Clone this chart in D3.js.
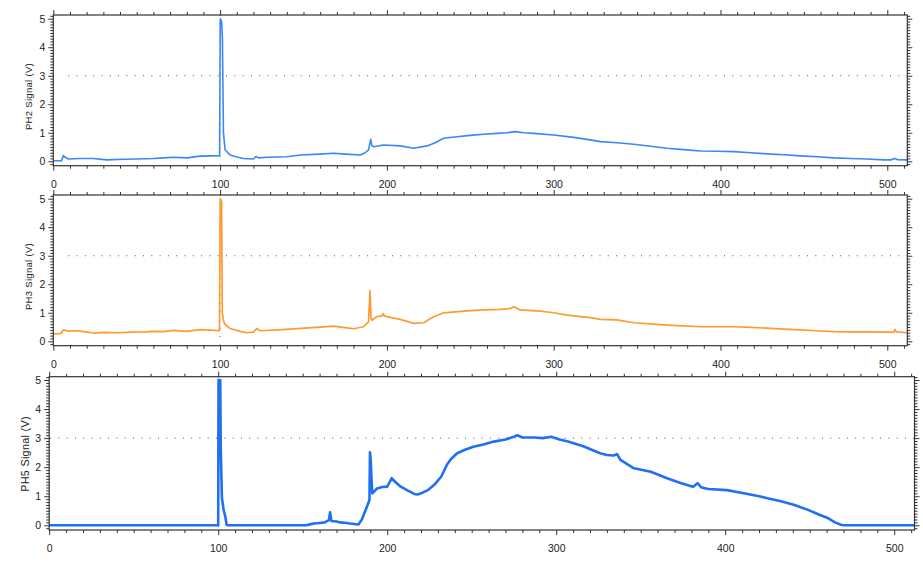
<!DOCTYPE html>
<html><head><meta charset="utf-8">
<script src="https://cdn.jsdelivr.net/npm/d3@7"></script>
<style>
body{margin:0;background:#fff}
svg{display:block}
text{font-family:"Liberation Sans",Arial,Helvetica,sans-serif}
</style>
</head><body>
<svg id="c" width="923" height="562"></svg>
<script>
// ---- data ----
const xMajorTicks = [0, 100, 200, 300, 400, 500];
const yMajorTicks = [0, 1, 2, 3, 4, 5];
const panelTitles = ["PH2 Signal (V)", "PH3 Signal (V)", "PH5 Signal (V)"];
const thresholdLevel = 3;
const markerX = 100;

const ph2 = [[0,0.02],[5,0.02],[6,0.2],[7,0.15],[9,0.08],[16,0.1],[24,0.1],[32,0.05],[42,0.07],[50,0.08],[60,0.1],[66,0.12],[72,0.14],[80,0.12],[88,0.18],[95,0.19],[99.7,0.2],[100.1,5.0],[100.9,4.9],[101.4,4.3],[102,1.0],[103,0.4],[106,0.22],[110,0.15],[114,0.1],[120,0.08],[121.5,0.17],[123,0.12],[128,0.14],[140,0.16],[148,0.22],[160,0.25],[168,0.28],[175,0.25],[184,0.22],[187,0.3],[189,0.4],[190.3,0.77],[191,0.55],[192,0.51],[198,0.57],[208,0.54],[216,0.46],[224,0.54],[229,0.65],[234,0.81],[242,0.86],[250,0.91],[258,0.95],[266,0.98],[272,1.0],[277,1.04],[282,1.0],[288,0.98],[300,0.92],[312,0.84],[320,0.77],[328,0.69],[338,0.65],[348,0.6],[358,0.53],[368,0.46],[378,0.41],[388,0.36],[398,0.35],[408,0.34],[418,0.3],[428,0.26],[438,0.23],[448,0.19],[458,0.16],[468,0.12],[478,0.1],[488,0.08],[498,0.05],[502,0.05],[504.6,0.1],[506,0.06],[512,0.05]];

const ph3 = [[0,0.26],[4,0.27],[5,0.3],[6,0.4],[9,0.36],[14,0.37],[18,0.34],[24,0.29],[30,0.31],[38,0.3],[48,0.32],[55,0.33],[60,0.35],[66,0.34],[72,0.38],[80,0.35],[88,0.41],[95,0.39],[99.6,0.37],[100.1,5.0],[100.9,4.9],[101.3,1.0],[102,0.75],[102.8,0.6],[106,0.45],[112,0.35],[116,0.3],[120,0.32],[122,0.45],[124,0.37],[135,0.4],[148,0.45],[160,0.5],[168,0.53],[175,0.48],[180,0.44],[186,0.51],[189,0.68],[189.9,1.77],[190.5,0.8],[191,0.74],[194,0.87],[197,0.88],[197.8,0.97],[198.5,0.88],[202,0.84],[208,0.77],[216,0.63],[222,0.65],[228,0.86],[234,1.0],[248,1.07],[258,1.1],[268,1.12],[274,1.15],[276,1.21],[280,1.1],[292,1.06],[300,1.0],[308,0.92],[322,0.83],[328,0.77],[338,0.75],[348,0.65],[358,0.61],[368,0.57],[378,0.54],[388,0.51],[398,0.51],[408,0.51],[418,0.49],[428,0.46],[438,0.43],[448,0.4],[458,0.37],[468,0.34],[478,0.33],[488,0.33],[500,0.32],[504,0.32],[504.6,0.42],[505.5,0.33],[512,0.3]];

const ph5 = [[0,0],[100,0],[100.2,5.0],[101.2,5.0],[101.5,2.65],[102.2,0.93],[103.2,0.53],[104.2,0.3],[105,0.02],[105.5,0],[152,0],[155,0.04],[156.5,0.06],[160,0.08],[163,0.1],[165.5,0.18],[166.2,0.45],[167,0.15],[170,0.13],[172.3,0.1],[176,0.08],[178,0.06],[183,0.03],[185,0.2],[188,0.64],[189.5,0.87],[189.8,2.51],[190.3,2.2],[190.7,1.6],[191.2,1.1],[194,1.27],[197,1.32],[200,1.33],[201.6,1.5],[202.6,1.62],[205,1.48],[208,1.33],[212,1.2],[216,1.08],[218,1.06],[220,1.1],[224,1.21],[228,1.4],[232,1.68],[235.5,2.1],[238,2.3],[241.4,2.48],[246,2.6],[251,2.7],[257,2.78],[263,2.88],[270,2.95],[275,3.05],[277,3.1],[280,3.02],[287,3.02],[292,3.0],[297,3.05],[302,2.95],[307,2.88],[316,2.72],[326,2.48],[330,2.42],[334,2.4],[336,2.45],[338,2.25],[346,1.96],[356,1.84],[366,1.61],[374,1.45],[381,1.33],[383.6,1.45],[386,1.3],[390,1.25],[401,1.21],[411,1.1],[420,1.0],[425,0.93],[433,0.83],[441,0.7],[449,0.53],[455,0.38],[461,0.24],[465,0.1],[468.5,0.02],[470,0],[512,0]];

const seriesList = [ph2, ph3, ph5];
const seriesColors = ["#3a87f7", "#ff9a33", "#1f70f2"];

// ---- layout ----
const panels = [
  {x0:53.3, x1:907.3, yZero:161.3, yFive:18.7, top:15, bottom:165.7, titleX:28, titleY:96.5, titleSize:9.5, lw:1.6, dotStart:9, labBase:187.5},
  {x0:53.3, x1:907.3, yZero:341.3, yFive:198.7, top:195, bottom:345.7, titleX:28, titleY:276.5, titleSize:9.5, lw:1.7, dotStart:9, labBase:367.5},
  {x0:49.2, x1:914.5, yZero:525.3, yFive:380, top:376.7, bottom:530, titleX:25, titleY:454, titleSize:10.8, lw:2.6, dotStart:0.5, labBase:551.7}
];

const svg = d3.select("#c");
const axisColor = "#333";
const xMinor = d3.range(0, 513, 10).filter(v => v % 100 !== 0);
const yMinor = d3.range(-1, 52, 1).map(v => v/10).filter(v => Math.abs(v - Math.round(v)) > 1e-6);

panels.forEach((p, i) => {
  const x = d3.scaleLinear().domain([0, 512]).range([p.x0, p.x1]);
  const y = d3.scaleLinear().domain([0, 5]).range([p.yZero, p.yFive]);
  const g = svg.append("g");

  g.append("clipPath").attr("id", "clip" + i)
    .append("rect").attr("x", p.x0).attr("y", p.top)
    .attr("width", p.x1 - p.x0).attr("height", p.bottom - p.top);

  // threshold dotted line
  g.append("line")
    .attr("x1", x(p.dotStart)).attr("x2", p.x1)
    .attr("y1", y(thresholdLevel)).attr("y2", y(thresholdLevel))
    .attr("stroke", "#555").attr("stroke-width", 1)
    .attr("stroke-dasharray", "1,7.3");
  // marker dotted vertical
  g.append("line")
    .attr("x1", x(markerX)).attr("x2", x(markerX))
    .attr("y1", p.top).attr("y2", p.bottom)
    .attr("stroke", "#555").attr("stroke-width", 1)
    .attr("stroke-dasharray", "1,7.3");

  // data line
  const line = d3.line().x(d => x(d[0])).y(d => y(d[1]));
  g.append("path").datum(seriesList[i])
    .attr("clip-path", `url(#clip${i})`)
    .attr("fill", "none")
    .attr("stroke", seriesColors[i])
    .attr("stroke-width", p.lw)
    .attr("stroke-linejoin", "round")
    .attr("d", line);

  const style = sel => {
    sel.select(".domain").remove();
    sel.selectAll(".tick line").attr("stroke", axisColor).attr("stroke-width", 1);
    sel.selectAll("text").attr("fill", "#222").attr("font-size", 10.5);
  };

  // bottom axis
  const bMaj = g.append("g").attr("transform", `translate(0,${p.bottom})`)
    .call(d3.axisBottom(x).tickValues(xMajorTicks).tickSize(5).tickPadding(9).tickFormat(d3.format("d")));
  style(bMaj);
  bMaj.selectAll("text").attr("y", null).attr("dy", null)
    .attr("transform", `translate(0,${p.labBase - p.bottom})`);
  const bMin = g.append("g").attr("transform", `translate(0,${p.bottom})`)
    .call(d3.axisBottom(x).tickValues(xMinor).tickSize(3).tickFormat(""));
  style(bMin);

  // top axis
  const tMaj = g.append("g").attr("transform", `translate(0,${p.top})`)
    .call(d3.axisTop(x).tickValues(xMajorTicks).tickSize(5).tickFormat(""));
  style(tMaj);
  const tMin = g.append("g").attr("transform", `translate(0,${p.top})`)
    .call(d3.axisTop(x).tickValues(xMinor).tickSize(3).tickFormat(""));
  style(tMin);

  // left axis
  const lMaj = g.append("g").attr("transform", `translate(${p.x0},0)`)
    .call(d3.axisLeft(y).tickValues(yMajorTicks).tickSize(5).tickPadding(3).tickFormat(d3.format("d")));
  style(lMaj);
  const lMin = g.append("g").attr("transform", `translate(${p.x0},0)`)
    .call(d3.axisLeft(y).tickValues(yMinor).tickSize(3).tickFormat(""));
  style(lMin);

  // right axis
  const rMaj = g.append("g").attr("transform", `translate(${p.x1},0)`)
    .call(d3.axisRight(y).tickValues(yMajorTicks).tickSize(5).tickFormat(""));
  style(rMaj);
  const rMin = g.append("g").attr("transform", `translate(${p.x1},0)`)
    .call(d3.axisRight(y).tickValues(yMinor).tickSize(3).tickFormat(""));
  style(rMin);

  // frame
  g.append("rect").attr("x", p.x0).attr("y", p.top)
    .attr("width", p.x1 - p.x0).attr("height", p.bottom - p.top)
    .attr("fill", "none").attr("stroke", axisColor).attr("stroke-width", 1.2);

  // title
  g.append("text")
    .attr("transform", `translate(${p.titleX},${p.titleY}) rotate(-90)`)
    .attr("text-anchor", "middle").attr("dominant-baseline", "central")
    .attr("font-size", p.titleSize).attr("fill", "#222")
    .attr("letter-spacing", 0.3)
    .text(panelTitles[i]);
});
</script>
</body></html>
